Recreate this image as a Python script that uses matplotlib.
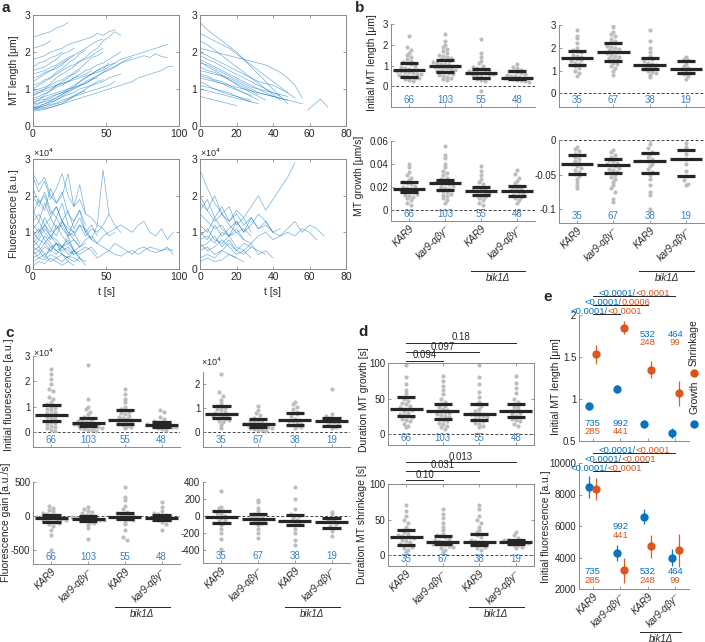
import numpy as np
import matplotlib
matplotlib.use('Agg')
import matplotlib.pyplot as plt
from matplotlib.lines import Line2D
from matplotlib.transforms import blended_transform_factory as blend

plt.rcParams['font.family'] = ['Liberation Sans', 'DejaVu Sans']
plt.rcParams['font.size'] = 7.5
plt.rcParams['axes.linewidth'] = 0.7
plt.rcParams['xtick.direction'] = 'in'
plt.rcParams['ytick.direction'] = 'in'

BLUE = '#0072BD'
ORANGE = '#D95319'
NBLUE = '#3a80c0'
GRAY = '#bdbdbd'
SPINE = '#8a8a8a'
TXT = '#262626'
TICK_FS = 7

# ---------------- data ----------------
groups = ['KAR9', 'kar9-αβγ⁻', 'KAR9', 'kar9-αβγ⁻']
n_grow = [66, 103, 55, 48]
n_shr = [35, 67, 38, 19]

# panel a: traces, one value every 4 s
dt = 4
a_grow_len = [
    [0.45, 0.5, 0.55, 0.62, 0.7, 0.8, 0.9, 1.0, 1.08, 1.15, 1.25, 1.3],
    [0.5, 0.52, 0.6, 0.68, 0.75, 0.85, 0.95, 1.05, 1.2, 1.3, 1.4, 1.5, 1.55, 1.7],
    [0.6, 0.7, 0.85, 0.95, 1.1, 1.2, 1.3, 1.45, 1.55, 1.7, 1.85, 1.9, 2.0],
    [0.8, 0.9, 1.0, 1.15, 1.3, 1.4, 1.5, 1.6, 1.75, 1.85, 2.0, 2.1, 2.3, 2.4, 2.55, 2.45],
    [1.0, 1.1, 1.2, 1.3, 1.45, 1.55, 1.7, 1.8, 1.95, 2.05],
    [1.2, 1.3, 1.4, 1.5, 1.55, 1.65, 1.8, 1.9],
    [1.5, 1.55, 1.6, 1.7, 1.8, 1.95, 2.0, 2.1],
    [2.4, 2.45, 2.5, 2.55, 2.65, 2.7, 2.8],
    [2.1, 2.15, 2.2, 2.3],
    [0.45, 0.45, 0.48, 0.5, 0.55, 0.6, 0.65, 0.7, 0.75, 0.8, 0.85, 0.9, 0.95, 1.0, 1.05,
     1.1, 1.15, 1.2, 1.3, 1.35, 1.4, 1.45, 1.5, 1.6, 1.62],
    [0.9, 0.95, 1.0, 1.05, 1.1, 1.15, 1.2, 1.25, 1.3, 1.35, 1.4, 1.45, 1.5, 1.6, 1.7, 1.8,
     1.85, 1.9, 1.95, 2.0, 2.05, 2.1, 2.15, 2.2],
    [0.7, 0.75, 0.8, 0.85, 0.9, 0.95, 1.0, 1.05, 1.1, 1.15, 1.25, 1.35, 1.45, 1.55, 1.6, 1.7,
     1.75, 1.8, 1.85, 1.9, 1.85, 1.95, 1.88, 1.85],
    [0.4, 0.42, 0.45, 0.5, 0.55, 0.6, 0.7, 0.8, 0.9, 1.0, 1.1, 1.2, 1.25],
    [1.3, 1.35, 1.45, 1.5, 1.6, 1.7, 1.8],
    [0.55, 0.6, 0.7, 0.75, 0.85, 0.9, 1.0, 1.1, 1.2, 1.3, 1.4, 1.5, 1.6, 1.65, 1.7],
    [1.1, 1.15, 1.25, 1.3, 1.4, 1.5, 1.6, 1.65, 1.75, 1.8, 1.9, 2.0, 2.1],
    [0.65, 0.7, 0.72, 0.8, 0.85, 0.9, 0.95],
    [0.85, 0.9, 0.95, 1.0, 1.1, 1.15, 1.2, 1.3, 1.35, 1.4, 1.5],
    [1.6, 1.7, 1.75, 1.85, 1.9, 2.0],
    [0.5, 0.55, 0.6, 0.65, 0.7, 0.78, 0.85, 0.9, 1.0, 1.05, 1.1, 1.15, 1.2, 1.3, 1.35, 1.4],
    [1.8, 1.85, 1.9, 2.0, 2.05, 2.1, 2.2, 2.25, 2.3, 2.35, 2.4, 2.5, 2.45, 2.55, 2.6],
    [0.95, 1.0, 1.05, 1.1, 1.2, 1.25, 1.35, 1.4, 1.5],
    [0.75, 0.8, 0.88, 0.95, 1.05, 1.1, 1.2, 1.3, 1.4, 1.5, 1.55, 1.65, 1.7, 1.8, 1.9, 2.0],
    [0.45, 0.48, 0.5, 0.55, 0.6, 0.65, 0.72, 0.8, 0.85, 0.9, 0.95, 1.0, 1.05, 1.1, 1.2],
    [0.5, 0.5, 0.55, 0.58, 0.62, 0.7, 0.75, 0.82, 0.9, 0.95],
    [1.4, 1.45, 1.5, 1.58, 1.65, 1.75, 1.85, 1.92, 2.0, 2.1, 2.2, 2.3, 2.35],
    [0.6, 0.62, 0.66, 0.7, 0.78, 0.85, 0.95, 1.02, 1.1, 1.2, 1.28, 1.35, 1.45, 1.5, 1.6, 1.7,
     1.8, 1.85],
]
a_shr_len = [
    [2.8, 2.6, 2.45, 2.3, 2.15, 2.0, 1.8, 1.6, 1.4, 1.2, 1.0, 0.8, 0.6],
    [2.1, 2.05, 2.0, 1.95, 1.9, 1.85, 1.8, 1.75, 1.7, 1.65, 1.55, 1.45, 1.3, 1.1, 0.76],
    [1.8, 1.7, 1.6, 1.5, 1.4, 1.3, 1.2, 1.1, 1.0, 0.9, 0.8],
    [1.6, 1.5, 1.45, 1.35, 1.25, 1.15, 1.05, 0.95, 0.85],
    [1.4, 1.35, 1.25, 1.2, 1.1, 1.0, 0.9, 0.8, 0.7],
    [1.2, 1.1, 1.0, 0.95, 0.9, 0.8, 0.75, 0.7],
    [1.0, 0.95, 0.9, 0.85, 0.8, 0.75, 0.7, 0.65, 0.6],
    [2.3, 2.2, 2.05, 1.9, 1.75, 1.6, 1.45, 1.3, 1.15, 1.0, 0.85, 0.7],
    [1.7, 1.65, 1.55, 1.45, 1.35, 1.25, 1.15, 1.05, 1.0, 0.95, 0.9, 0.85, 0.8],
    [0.8, 0.75, 0.7, 0.65, 0.6, 0.55],
    [2.0, 1.9, 1.8, 1.7, 1.6, 1.5, 1.4, 1.3, 1.2, 1.15, 1.1, 1.0, 0.9, 0.75],
    [1.3, 1.25, 1.2, 1.15, 1.1, 1.05, 1.0, 0.95, 0.9, 0.85, 0.8, 0.75, 0.7],
    [1.5, 1.45, 1.4, 1.35, 1.3, 1.2, 1.1, 1.0, 0.9, 0.85, 0.8, 0.75, 0.7, 0.65, 0.6],
    [1.1, 1.05, 1.0, 0.92, 0.85, 0.8, 0.72, 0.65],
    [1.9, 1.8, 1.72, 1.62, 1.5, 1.4, 1.3, 1.2, 1.1, 1.0, 0.9, 0.8],
    [2.5, 2.4, 2.3, 2.2, 2.1, 1.95, 1.8, 1.65, 1.5, 1.35, 1.2, 1.05, 0.9],
    [1.75, 1.6, 1.5, 1.38, 1.25, 1.12, 1.0, 0.9, 0.8, 0.7],
    [1.35, 1.3, 1.22, 1.15, 1.05, 0.98, 0.9, 0.82],
]
a_shr_late_t = [59, 66, 70]
a_shr_late_len = [0.43, 0.73, 0.51]

a_grow_fl = [
    [2.6, 2.3, 2.5, 2.0, 1.8, 2.1, 1.5, 1.3, 1.6, 1.2],
    [1.5, 1.9, 1.6, 2.2, 1.8, 2.0, 2.6, 1.7, 2.3, 1.5, 1.4, 1.2, 2.7, 1.5],
    [0.8, 1.0, 1.2, 0.9, 1.1, 1.3, 1.0, 0.9, 1.2, 1.1, 0.8, 0.7, 0.9, 1.0, 1.1, 1.2, 1.1,
     1.0, 1.2, 1.3, 1.0, 0.9, 1.1, 0.8, 1.0],
    [0.5, 0.6, 0.4, 0.5, 0.7, 0.6, 0.5, 0.4, 0.5, 0.6, 0.5, 0.3, 0.4, 0.5, 0.4, 0.35, 0.45,
     0.5, 0.4, 0.5, 0.6, 0.55, 0.5, 0.6, 0.4],
    [1.2, 1.0, 1.4, 1.1, 0.9, 1.3, 1.0, 0.8, 0.6],
    [0.3, 0.4, 0.6, 0.5, 0.7, 0.4, 0.3, 0.5],
    [2.0, 1.7, 2.1, 1.6, 1.4, 1.8, 1.2, 1.0],
    [0.6, 0.8, 0.7, 0.5, 0.4, 0.6, 0.8, 0.5, 0.3, 0.2],
    [1.0, 0.8, 1.1, 0.9, 0.7, 0.6, 0.9, 0.5, 0.4, 0.5, 0.6, 0.4],
    [0.2, 0.3, 0.25, 0.4, 0.3, 0.2, 0.35, 0.3, 0.2],
    [1.6, 1.3, 1.8, 1.4, 1.1, 1.2, 0.9, 1.0, 0.7],
    [0.9, 1.1, 0.8, 0.6, 0.7, 0.5, 0.6, 0.4],
    [0.4, 0.5, 0.3, 0.6, 0.5, 0.4, 0.3, 0.2, 0.3, 0.1],
    [2.2, 1.8, 2.0, 1.5, 1.7, 1.3, 1.6, 1.1, 1.4, 1.0, 1.2, 0.9],
    [0.7, 0.9, 1.2, 1.0, 1.4, 1.1, 0.9, 1.3, 1.6, 1.0, 0.8, 1.2, 1.1, 0.9, 1.0],
    [1.3, 1.5, 1.2, 1.4, 1.7, 1.3, 1.1, 1.0, 1.2, 0.9, 1.1, 1.0, 1.2, 1.5, 1.2, 1.0],
    [0.1, 0.2, 0.15, 0.3, 0.2, 0.1, 0.2],
    [0.5, 0.3, 0.4, 0.2, 0.3, 0.4, 0.2, 0.1],
    [2.5, 2.1, 2.4, 1.9, 2.2, 2.6, 2.0, 1.7, 1.9, 1.5],
    [0.6, 0.5, 0.7, 0.9, 0.8, 0.6, 0.7, 0.5, 0.6, 0.8, 0.9, 0.7, 0.6, 0.5, 0.7, 0.6, 0.5,
     0.4, 0.55, 0.6, 0.5, 0.45, 0.5, 0.55, 0.5],
    [0.8, 0.6, 0.9, 0.7, 0.5, 0.6, 0.4, 0.5, 0.3],
    [1.1, 1.3, 1.0, 0.8, 1.2, 0.9, 0.7, 0.8, 0.6, 0.7],
]
a_shr_fl = [
    [2.7, 2.2, 1.8, 1.5, 1.7, 1.2, 1.4, 1.0],
    [1.8, 1.6, 2.0, 1.5, 1.3, 1.6, 1.4, 1.7, 2.0, 1.6, 1.9, 2.2, 2.5, 2.9],
    [1.2, 1.0, 1.4, 1.1, 0.9, 1.3, 1.0, 1.2, 1.5, 1.3, 1.0, 1.1],
    [0.8, 0.9, 0.7, 1.0, 0.9, 1.1, 0.8, 0.7, 0.9, 1.0, 0.8, 0.9, 1.0, 0.9, 1.1, 1.0, 0.8],
    [0.5, 0.6, 0.4, 0.5, 0.7, 0.5, 0.4, 0.6, 0.5, 0.4],
    [1.5, 1.3, 1.1, 1.2, 0.9, 1.0, 0.8],
    [0.3, 0.4, 0.3, 0.5, 0.4, 0.3],
    [1.0, 0.8, 1.2, 0.9, 1.1, 1.3, 1.0, 1.4, 1.1, 1.2, 1.0, 0.9, 1.1, 1.3, 1.0, 1.2, 1.1, 0.9],
    [0.6, 0.7, 0.9, 0.6, 0.8, 0.5, 0.7, 0.6],
    [2.0, 1.6, 1.3, 1.5, 1.2, 1.0, 1.1, 0.9],
    [0.2, 0.3, 0.2, 0.25, 0.4, 0.3, 0.2],
    [0.9, 1.1, 0.8, 0.7, 0.9, 0.6, 0.5, 0.7, 0.4, 0.5, 0.3],
    [1.6, 1.9, 1.4, 1.7, 1.3, 1.5, 1.2, 1.4, 1.1, 1.3, 1.0],
    [0.7, 0.5, 0.6, 0.8, 0.6, 0.4, 0.5, 0.3],
]

# panel b: initial length and rates
b_len_grow = [
    [2.4, 1.9, 1.75, 1.6, 1.5, 1.4, 1.3, 1.2, 1.15, 1.1, 1.05, 1.0, 0.95, 0.9, 0.85, 0.8, 0.78,
     0.75, 0.72, 0.7, 0.68, 0.65, 0.6, 0.58, 0.55, 0.5, 0.48, 0.45, 0.42, 0.4, 0.35, 0.3, 0.25],
    [2.5, 2.2, 2.0, 1.9, 1.8, 1.7, 1.6, 1.5, 1.45, 1.4, 1.35, 1.3, 1.25, 1.2, 1.15, 1.1, 1.08,
     1.05, 1.02, 1.0, 0.98, 0.95, 0.92, 0.9, 0.88, 0.85, 0.8, 0.75, 0.72, 0.7, 0.65, 0.6, 0.55,
     0.5, 0.45, 0.4, 0.35, 0.3],
    [2.3, 1.6, 1.4, 1.2, 1.1, 1.0, 0.95, 0.9, 0.85, 0.8, 0.78, 0.75, 0.7, 0.68, 0.65, 0.62,
     0.6, 0.58, 0.55, 0.5, 0.45, 0.42, 0.4, 0.35, 0.3, 0.25, -0.25],
    [1.05, 0.95, 0.9, 0.8, 0.75, 0.72, 0.7, 0.65, 0.6, 0.55, 0.5, 0.48, 0.45, 0.42, 0.4, 0.38,
     0.35, 0.33, 0.3, 0.28, 0.25, 0.2],
]
b_len_grow_med = [0.76, 0.99, 0.65, 0.42]
b_len_grow_q1 = [0.43, 0.67, 0.41, 0.35]
b_len_grow_q3 = [1.14, 1.27, 0.81, 0.73]

b_len_shr = [
    [2.8, 2.5, 2.45, 2.2, 2.0, 1.9, 1.85, 1.8, 1.7, 1.65, 1.6, 1.55, 1.5, 1.45, 1.4, 1.35, 1.3,
     1.25, 1.2, 1.1, 1.0, 0.9, 0.75],
    [3.05, 2.9, 2.7, 2.6, 2.5, 2.4, 2.3, 2.25, 2.2, 2.1, 2.05, 2.0, 1.95, 1.9, 1.85, 1.8, 1.75,
     1.7, 1.65, 1.6, 1.55, 1.5, 1.45, 1.4, 1.35, 1.3, 1.2, 1.1, 1.0, 0.8],
    [2.8, 2.3, 2.0, 1.8, 1.65, 1.55, 1.5, 1.4, 1.35, 1.3, 1.25, 1.2, 1.15, 1.1, 1.05, 1.0, 0.95,
     0.9, 0.8, 0.7],
    [1.6, 1.5, 1.45, 1.3, 1.2, 1.1, 1.05, 1.0, 0.9, 0.85, 0.75, 0.65],
]
b_len_shr_med = [1.56, 1.82, 1.26, 1.09]
b_len_shr_q1 = [1.25, 1.41, 1.07, 0.9]
b_len_shr_q3 = [1.85, 2.2, 1.57, 1.44]

b_rate_grow = [
    [0.04, 0.037, 0.033, 0.03, 0.028, 0.026, 0.024, 0.023, 0.022, 0.021, 0.02, 0.019, 0.018,
     0.018, 0.017, 0.016, 0.015, 0.015, 0.014, 0.013, 0.012, 0.011, 0.01, 0.008, 0.006, 0.004],
    [0.056, 0.048, 0.045, 0.04, 0.037, 0.034, 0.032, 0.03, 0.028, 0.027, 0.026, 0.025, 0.024,
     0.023, 0.023, 0.022, 0.021, 0.02, 0.019, 0.018, 0.017, 0.016, 0.015, 0.014, 0.013, 0.012,
     0.01, 0.008, 0.006],
    [0.038, 0.034, 0.03, 0.027, 0.024, 0.022, 0.02, 0.019, 0.018, 0.017, 0.016, 0.016, 0.015,
     0.014, 0.013, 0.012, 0.011, 0.01, 0.008, 0.006, 0.004],
    [0.035, 0.031, 0.028, 0.025, 0.023, 0.021, 0.02, 0.019, 0.018, 0.017, 0.016, 0.015, 0.014,
     0.013, 0.012, 0.011, 0.01, 0.008, 0.006],
]
b_rate_grow_med = [0.018, 0.023, 0.016, 0.0165]
b_rate_grow_q1 = [0.015, 0.017, 0.0124, 0.0116]
b_rate_grow_q3 = [0.0237, 0.026, 0.0194, 0.021]

b_rate_shr = [
    [-0.01, -0.013, -0.016, -0.02, -0.022, -0.025, -0.028, -0.03, -0.033, -0.035, -0.037,
     -0.04, -0.043, -0.046, -0.049, -0.052, -0.056, -0.06, -0.065, -0.07],
    [-0.015, -0.018, -0.021, -0.024, -0.027, -0.029, -0.031, -0.033, -0.035, -0.036, -0.038,
     -0.04, -0.042, -0.044, -0.046, -0.048, -0.05, -0.053, -0.056, -0.06, -0.065, -0.07,
     -0.075, -0.085, -0.09],
    [0.0, -0.006, -0.012, -0.017, -0.02, -0.024, -0.028, -0.031, -0.034, -0.038, -0.042,
     -0.046, -0.05, -0.056, -0.065, -0.075, -0.08, -0.1],
    [-0.005, -0.01, -0.015, -0.02, -0.028, -0.035, -0.045, -0.052, -0.058, -0.063, -0.065],
]
b_rate_shr_med = [-0.035, -0.036, -0.031, -0.028]
b_rate_shr_q1 = [-0.049, -0.047, -0.047, -0.052]
b_rate_shr_q3 = [-0.022, -0.0275, -0.019, -0.015]

# panel c: fluorescence (x1e4) and fluorescence gain
c_fl_grow = [
    [2.5, 2.3, 2.1, 1.9, 1.7, 1.6, 1.4, 1.3, 1.2, 1.1, 1.0, 0.95, 0.9, 0.85, 0.8, 0.75, 0.7,
     0.65, 0.6, 0.55, 0.5, 0.45, 0.4, 0.35, 0.3, 0.25, 0.2, 0.15, 0.1, 0.05],
    [2.65, 1.3, 1.0, 0.9, 0.8, 0.7, 0.6, 0.55, 0.5, 0.45, 0.42, 0.4, 0.38, 0.35, 0.33, 0.3,
     0.28, 0.26, 0.24, 0.22, 0.2, 0.18, 0.16, 0.14, 0.12, 0.1, 0.08, 0.05],
    [1.7, 1.5, 1.3, 1.2, 1.0, 0.9, 0.85, 0.8, 0.75, 0.7, 0.65, 0.6, 0.55, 0.5, 0.48, 0.45,
     0.42, 0.4, 0.35, 0.3, 0.28, 0.25, 0.2, 0.15],
    [0.85, 0.8, 0.6, 0.5, 0.45, 0.4, 0.38, 0.35, 0.32, 0.3, 0.28, 0.26, 0.25, 0.24, 0.22,
     0.2, 0.18, 0.15, 0.12, 0.1],
]
c_fl_grow_med = [0.68, 0.35, 0.48, 0.27]
c_fl_grow_q1 = [0.42, 0.25, 0.3, 0.2]
c_fl_grow_q3 = [1.06, 0.55, 0.87, 0.4]

c_fl_shr = [
    [2.4, 1.65, 1.5, 1.35, 1.2, 1.1, 1.05, 1.0, 0.95, 0.9, 0.85, 0.8, 0.75, 0.72, 0.7, 0.65,
     0.6, 0.58, 0.55, 0.5, 0.45, 0.4, 0.3, 0.15],
    [1.1, 0.9, 0.8, 0.7, 0.6, 0.55, 0.5, 0.45, 0.42, 0.4, 0.38, 0.35, 0.33, 0.3, 0.28, 0.26,
     0.24, 0.22, 0.2, 0.18, 0.15, 0.12, 0.1, 0.08, 0.05],
    [1.25, 1.15, 1.05, 0.95, 0.85, 0.8, 0.75, 0.65, 0.55, 0.5, 0.48, 0.45, 0.4, 0.35, 0.3,
     0.28, 0.25, 0.2, 0.15],
    [1.8, 0.75, 0.65, 0.6, 0.55, 0.5, 0.45, 0.42, 0.4, 0.35, 0.3, 0.25, 0.2, 0.15],
]
c_fl_shr_med = [0.75, 0.33, 0.49, 0.46]
c_fl_shr_q1 = [0.57, 0.2, 0.29, 0.25]
c_fl_shr_q3 = [1.07, 0.54, 0.8, 0.6]

c_gain_grow = [
    [150, 120, 90, 70, 50, 30, 20, 10, 0, -10, -15, -20, -25, -30, -35, -40, -50, -60, -70,
     -80, -90, -100, -120, -150, -200, -280, -500],
    [130, 100, 80, 60, 40, 20, 10, 0, -10, -20, -25, -30, -35, -40, -45, -50, -55, -60, -70,
     -80, -100, -130, -180, -330],
    [420, 280, 230, 150, 100, 60, 45, 30, 20, 10, 0, -10, -20, -30, -40, -50, -80, -120, -200,
     -300, -350],
    [200, 130, 80, 50, 30, 20, 10, 0, -10, -20, -30, -40, -50, -60, -80, -110, -200],
]
c_gain_grow_med = [-30, -35, -10, -20]
c_gain_grow_q1 = [-90, -65, -45, -60]
c_gain_grow_q3 = [10, 5, 45, 15]

c_gain_shr = [
    [290, 110, 90, 60, 40, 20, 0, -10, -20, -40, -60, -85, -100, -150, -200, -270, -380],
    [190, 160, 100, 60, 30, 10, 0, -10, -20, -30, -40, -50, -60, -80, -100, -150, -200, -260],
    [340, 200, 80, 30, 10, 0, -20, -40, -60, -70, -90, -110, -150, -200, -280, -340],
    [50, 20, -20, -40, -60, -70, -90, -120, -140, -180, -230],
]
c_gain_shr_med = [-5, -30, -60, -70]
c_gain_shr_q1 = [-85, -80, -110, -140]
c_gain_shr_q3 = [60, 30, 10, -20]

# panel d: durations
d_dur_grow = [
    [97, 80, 70, 62, 58, 53, 50, 47, 44, 42, 40, 38, 36, 35, 34, 32, 30, 28, 27, 25, 24, 22,
     20, 18, 15, 12, 10],
    [82, 75, 68, 62, 56, 50, 46, 42, 40, 38, 36, 34, 33, 32, 31, 30, 28, 27, 25, 24, 22, 20,
     18, 16, 14, 12, 10, 8],
    [97, 80, 70, 60, 52, 46, 43, 40, 36, 33, 30, 29, 28, 27, 26, 25, 24, 22, 20, 18, 16, 14,
     12, 10],
    [82, 72, 65, 58, 50, 45, 43, 40, 38, 35, 33, 32, 30, 28, 26, 24, 22, 20, 18, 15, 12],
]
d_dur_grow_med = [35, 32, 29, 32]
d_dur_grow_q1 = [25, 22, 20, 24]
d_dur_grow_q3 = [53, 42, 43, 43]
d_grow_p = ['0.094', '0.097', '0.18']

d_dur_shr = [
    [70, 62, 55, 50, 45, 40, 36, 35, 33, 30, 28, 27, 26, 25, 24, 22, 20, 18, 16, 15, 14, 12,
     10, 8, 5],
    [65, 58, 52, 45, 40, 35, 30, 28, 27, 25, 23, 21, 20, 19, 18, 17, 16, 16, 15, 14, 13, 12,
     10, 8, 5],
    [70, 65, 55, 50, 45, 40, 35, 32, 30, 28, 25, 22, 20, 19, 18, 17, 16, 15, 14, 12, 10, 8],
    [32, 28, 24, 22, 21, 20, 19, 18, 18, 17, 16, 15, 14, 12, 10],
]
d_dur_shr_med = [25, 19, 19, 19]
d_dur_shr_q1 = [15, 16, 15, 16]
d_dur_shr_q3 = [35, 27, 30, 22]
d_shr_p = ['0.10', '0.031', '0.013']

# panel e: means with error bars
e_len_grow = [0.92, 1.12, 0.70, 0.60]
e_len_grow_err = [0.05, 0.05, 0.05, 0.06]
e_len_shr = [1.53, 1.85, 1.35, 1.07]
e_len_shr_err = [0.11, 0.08, 0.10, 0.15]
e_fl_grow = [8500, 4300, 6600, 4000]
e_fl_grow_err = [700, 500, 500, 550]
e_fl_shr = [8350, 3200, 4700, 4450]
e_fl_shr_err = [700, 800, 750, 1050]
e_n_grow = [735, 992, 532, 464]
e_n_shr = [285, 441, 248, 99]
e_len_p_grow = ['<0.0001/', '<0.0001/', '<0.0001/']
e_len_p_shr = ['<0.0001', '0.0006', '<0.0001']
e_fl_p_grow = ['<0.0001/', '<0.0001/', '<0.0001/']
e_fl_p_shr = ['<0.0001', '<0.0001', '<0.0001']

# ---------------- figure ----------------
W, H = 705, 642
fig = plt.figure(figsize=(W / 100, H / 100), dpi=100)


def px_axes(l, t, r, b):
    return fig.add_axes([l / W, 1 - b / H, (r - l) / W, (b - t) / H])


def ftext(x, y, s, **kw):
    kw.setdefault('color', TXT)
    return fig.text(x / W, 1 - y / H, s, **kw)


def style(ax, box=False):
    for s in ax.spines.values():
        s.set_color(SPINE)
    if not box:
        ax.spines['top'].set_visible(False)
        ax.spines['right'].set_visible(False)
    ax.tick_params(colors=SPINE, labelcolor=TXT, length=2.5, width=0.6,
                   top=box, right=box, labelsize=TICK_FS, pad=2)


def swarm_offsets(vals, ybin, dx):
    vals = np.asarray(vals, float)
    offs = np.zeros(len(vals))
    keys = np.floor(vals / ybin).astype(int)
    for k in np.unique(keys):
        idx = np.where(keys == k)[0]
        offs[idx] = (np.arange(len(idx)) - (len(idx) - 1) / 2) * dx
    return offs


def bik_label(ax, y):
    tr = blend(ax.transData, fig.transFigure)
    ax.plot([2.72, 4.22], [1 - y / H] * 2, color=TXT, lw=0.7, transform=tr, clip_on=False)
    ax.text(3.47, 1 - (y + 2) / H, 'bik1Δ', style='italic', ha='center', va='top',
            fontsize=TICK_FS, color=TXT, transform=tr)


def swarm_panel(ax, data, med, q1, q3, counts, ylim, yticks, yticklabels,
                xlabels=False, box=False, bik_y=None):
    style(ax, box)
    ax.set_xlim(0.5, 4.5)
    ax.set_ylim(*ylim)
    ax.axhline(0, color='#444444', ls=(0, (3, 2)), lw=0.7, zorder=1)
    h_px = ax.get_position().height * H
    ybin = (ylim[1] - ylim[0]) * 4.0 / h_px
    for i, vals in enumerate(data):
        x = i + 1
        offs = swarm_offsets(vals, ybin, 0.11)
        ax.scatter(x + offs, vals, s=9, color=GRAY, lw=0, zorder=2)
        ax.plot([x - 0.45, x + 0.45], [med[i]] * 2, color='#262626', lw=2.3,
                solid_capstyle='butt', zorder=3)
        for q in (q1[i], q3[i]):
            ax.plot([x - 0.25, x + 0.25], [q, q], color='#262626', lw=2.3,
                    solid_capstyle='butt', zorder=3)
        ax.text(x, 2.0 / h_px, str(counts[i]), color=NBLUE, ha='center', va='bottom',
                fontsize=TICK_FS, transform=blend(ax.transData, ax.transAxes))
    ax.set_yticks(yticks)
    ax.set_yticklabels(yticklabels)
    ax.set_xticks([1, 2, 3, 4])
    if xlabels:
        ax.set_xticklabels(groups, rotation=45, ha='right', rotation_mode='anchor',
                           style='italic', fontsize=TICK_FS)
    else:
        ax.set_xticklabels([])
    if bik_y is not None:
        bik_label(ax, bik_y)


def sig_bars(ax, ys, labels):
    tr = blend(ax.transData, fig.transFigure)
    for (y, lab, j) in zip(ys, labels, [2, 3, 4]):
        ax.plot([1, j], [1 - y / H] * 2, color=TXT, lw=0.7, transform=tr, clip_on=False)
        ax.text((1 + j) / 2, 1 - (y - 0.5) / H, lab, ha='center', va='bottom', fontsize=7,
                color=TXT, transform=tr)


def sig_bars2(ax, ys, lab_b, lab_o):
    tr = blend(ax.transData, fig.transFigure)
    for (y, lb, lo, j) in zip(ys, lab_b, lab_o, [2, 3, 4]):
        ax.plot([1, j], [1 - y / H] * 2, color=TXT, lw=0.7, transform=tr, clip_on=False)
        xc = (1 + j) / 2 + 0.05
        ax.text(xc, 1 - (y + 2) / H, lb, ha='right', va='bottom', fontsize=6.8, color=BLUE,
                transform=tr)
        ax.text(xc, 1 - (y + 2) / H, lo, ha='left', va='bottom', fontsize=6.8, color=ORANGE,
                transform=tr)


# ---- panel a ----
def traces(ax, tr_list, xlim, xticks):
    style(ax, box=True)
    for y in tr_list:
        t = np.arange(len(y)) * dt
        ax.plot(t, y, color=BLUE, lw=0.5, alpha=0.55)
    ax.set_xlim(*xlim)
    ax.set_ylim(0, 3)
    ax.set_xticks(xticks)
    ax.set_yticks([0, 1, 2, 3])
    ax.tick_params(labelsize=7.5)


a1 = px_axes(33, 15, 179, 126)
traces(a1, a_grow_len, (0, 100), [0, 50, 100])
a2 = px_axes(200, 15, 346, 126)
traces(a2, a_shr_len, (0, 80), [0, 20, 40, 60, 80])
a2.plot(a_shr_late_t, a_shr_late_len, color=BLUE, lw=0.5, alpha=0.55)
a3 = px_axes(33, 159, 179, 269)
traces(a3, a_grow_fl, (0, 100), [0, 50, 100])
a4 = px_axes(200, 159, 346, 269)
traces(a4, a_shr_fl, (0, 80), [0, 20, 40, 60, 80])

ftext(2, 8, 'a', fontsize=11, fontweight='bold', va='center')
ftext(14, 70, 'MT length [μm]', rotation=90, ha='center', va='center', fontsize=7.5)
ftext(14, 214, 'Fluorescence [a.u.]', rotation=90, ha='center', va='center', fontsize=7.5)
ftext(33, 153, '×10$^4$', fontsize=6.5, va='center')
ftext(200, 153, '×10$^4$', fontsize=6.5, va='center')
ftext(106, 292, 't [s]', ha='center', va='center', fontsize=7.5)
ftext(273, 292, 't [s]', ha='center', va='center', fontsize=7.5)

# ---- panel b ----
b1 = px_axes(391, 24, 535, 107)
swarm_panel(b1, b_len_grow, b_len_grow_med, b_len_grow_q1, b_len_grow_q3, n_grow,
            (-1, 3), [0, 1, 2, 3], ['0', '1', '2', '3'])
b2 = px_axes(559, 25, 704, 107)
swarm_panel(b2, b_len_shr, b_len_shr_med, b_len_shr_q1, b_len_shr_q3, n_shr,
            (-0.6, 3), [0, 1, 2, 3], ['0', '1', '2', '3'])
b3 = px_axes(391, 141, 535, 221)
swarm_panel(b3, b_rate_grow, b_rate_grow_med, b_rate_grow_q1, b_rate_grow_q3, n_grow,
            (-0.01, 0.06), [0, 0.02, 0.04, 0.06], ['0', '0.02', '0.04', '0.06'],
            xlabels=True, bik_y=271)
b4 = px_axes(559, 140, 704, 223)
swarm_panel(b4, b_rate_shr, b_rate_shr_med, b_rate_shr_q1, b_rate_shr_q3, n_shr,
            (-0.12, 0), [-0.1, -0.05, 0], ['-0.1', '-0.05', '0'],
            xlabels=True, bik_y=271)
ftext(355, 8, 'b', fontsize=11, fontweight='bold', va='center')
ftext(372, 63, 'Initial MT length [μm]', rotation=90, ha='center', va='center')
ftext(359, 176, 'MT growth [μm/s]', rotation=90, ha='center', va='center')

# ---- panel c ----
c1 = px_axes(33, 356, 180, 447)
swarm_panel(c1, c_fl_grow, c_fl_grow_med, c_fl_grow_q1, c_fl_grow_q3, n_grow,
            (-0.59, 3), [0, 1, 2, 3], ['0', '1', '2', '3'])
c2 = px_axes(203, 372, 350, 447)
swarm_panel(c2, c_fl_shr, c_fl_shr_med, c_fl_shr_q1, c_fl_shr_q3, n_shr,
            (-0.62, 2.5), [0, 1, 2], ['0', '1', '2'])
c3 = px_axes(33, 482, 180, 564)
swarm_panel(c3, c_gain_grow, c_gain_grow_med, c_gain_grow_q1, c_gain_grow_q3, n_grow,
            (-700, 500), [-500, 0, 500], ['-500', '0', '500'], xlabels=True, bik_y=607)
c4 = px_axes(203, 482, 350, 563)
swarm_panel(c4, c_gain_shr, c_gain_shr_med, c_gain_shr_q1, c_gain_shr_q3, n_shr,
            (-550, 400), [-400, -200, 0, 200, 400], ['-400', '-200', '0', '200', '400'],
            xlabels=True, bik_y=607)
ftext(5, 333, 'c', fontsize=11, fontweight='bold', va='center')
ftext(33, 353, '×10$^4$', fontsize=6.5, va='center')
ftext(201, 362, '×10$^4$', fontsize=6.5, va='center')
ftext(9, 395, 'Initial fluorescence [a.u.]', rotation=90, ha='center', va='center')
ftext(6, 522, 'Fluorescence gain [a.u./s]', rotation=90, ha='center', va='center')

# ---- panel d ----
d1 = px_axes(388, 363, 534, 445)
swarm_panel(d1, d_dur_grow, d_dur_grow_med, d_dur_grow_q1, d_dur_grow_q3, n_grow,
            (-15, 100), [0, 50, 100], ['0', '50', '100'], box=True)
sig_bars(d1, [361, 352, 343], d_grow_p)
d2 = px_axes(388, 484, 534, 566)
swarm_panel(d2, d_dur_shr, d_dur_shr_med, d_dur_shr_q1, d_dur_shr_q3, n_shr,
            (-15, 100), [0, 50, 100], ['0', '50', '100'], xlabels=True, box=True, bik_y=607)
sig_bars(d2, [480, 471, 462], d_shr_p)
ftext(358, 332, 'd', fontsize=11, fontweight='bold', va='center')
ftext(364, 400, 'Duration MT growth [s]', rotation=90, ha='center', va='center')
ftext(362, 524, 'Duration MT shrinkage [s]', rotation=90, ha='center', va='center')

# ---- panel e ----
xg = np.arange(1, 5)
e1 = px_axes(579, 315, 689, 441)
style(e1)
e1.errorbar(xg - 0.12, e_len_grow, yerr=e_len_grow_err, fmt='o', color=BLUE, ms=5,
            elinewidth=0.9, capsize=0, alpha=0.95)
e1.errorbar(xg + 0.12, e_len_shr, yerr=e_len_shr_err, fmt='o', color=ORANGE, ms=5,
            elinewidth=0.9, capsize=0, alpha=0.95)
e1.set_xlim(0.5, 4.5)
e1.set_ylim(0.5, 2)
e1.set_xticks([1, 2, 3, 4])
e1.set_xticklabels([])
e1.set_yticks([0.5, 1, 1.5, 2])
e1.set_yticklabels(['0.5', '1', '1.5', '2'])
e1_count_y = [0.71, 0.71, 1.77, 1.77]
for i in range(4):
    e1.text(xg[i], e1_count_y[i], str(e_n_grow[i]), color=BLUE, ha='center', va='center',
            fontsize=6.8)
    e1.text(xg[i], e1_count_y[i] - 0.095, str(e_n_shr[i]), color=ORANGE, ha='center',
            va='center', fontsize=6.8)
sig_bars2(e1, [314, 305, 296], e_len_p_grow, e_len_p_shr)

e2 = px_axes(579, 463, 689, 589)
style(e2)
e2.errorbar(xg - 0.12, e_fl_grow, yerr=e_fl_grow_err, fmt='o', color=BLUE, ms=5,
            elinewidth=0.9, capsize=0, alpha=0.95)
e2.errorbar(xg + 0.12, e_fl_shr, yerr=e_fl_shr_err, fmt='o', color=ORANGE, ms=5,
            elinewidth=0.9, capsize=0, alpha=0.95)
e2.set_xlim(0.5, 4.5)
e2.set_ylim(2000, 10000)
e2.set_yticks([2000, 4000, 6000, 8000, 10000])
e2.set_xticks([1, 2, 3, 4])
e2.set_xticklabels(groups, rotation=45, ha='right', rotation_mode='anchor', style='italic',
                   fontsize=TICK_FS)
e2_count_y = [3120, 5980, 3120, 3120]
for i in range(4):
    e2.text(xg[i], e2_count_y[i], str(e_n_grow[i]), color=BLUE, ha='center', va='center',
            fontsize=6.8)
    e2.text(xg[i], e2_count_y[i] - 560, str(e_n_shr[i]), color=ORANGE, ha='center',
            va='center', fontsize=6.8)
sig_bars2(e2, [471, 462, 453], e_fl_p_grow, e_fl_p_shr)
bik_label(e2, 632)

ftext(543, 297, 'e', fontsize=11, fontweight='bold', va='center')
ftext(556, 387, 'Initial MT length [μm]', rotation=90, ha='center', va='center')
ftext(546, 527, 'Initial fluorescence [a.u.]', rotation=90, ha='center', va='center')
ftext(694, 343, 'Shrinkage', rotation=90, ha='center', va='center')
ftext(694, 397, 'Growth', rotation=90, ha='center', va='center')
fig.add_artist(Line2D([694 / W], [1 - 373 / H], marker='o', color=ORANGE, ms=5,
                      transform=fig.transFigure))
fig.add_artist(Line2D([694 / W], [1 - 424 / H], marker='o', color=BLUE, ms=5,
                      transform=fig.transFigure))

fig.savefig('out.png', dpi=100)
